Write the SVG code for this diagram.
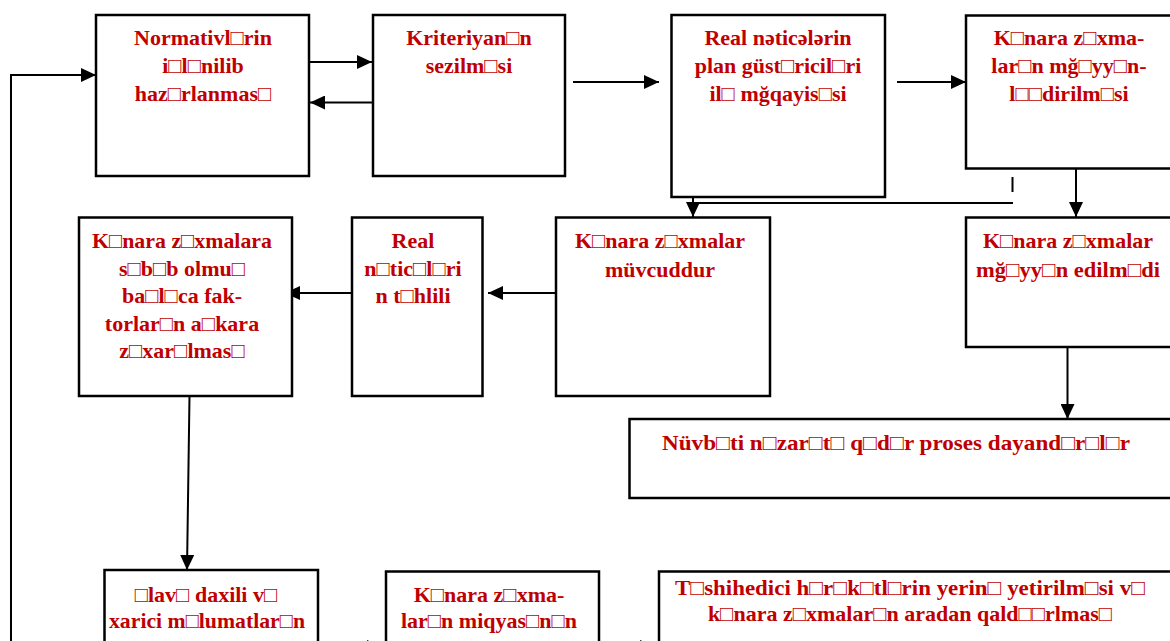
<svg xmlns="http://www.w3.org/2000/svg" width="1170" height="641" viewBox="0 0 1170 641">
  <style>
    .box { fill: #ffffff; stroke: #000000; stroke-width: 2.5; }
    .lbl { font-family: "Liberation Serif", "Times New Roman", serif; font-weight: bold; font-size: 22px; fill: #c00000; text-anchor: middle; }
    .con { fill: none; stroke: #000000; stroke-width: 2; }
  </style>
  <defs>
    <marker id="arr" viewBox="0 0 15 14" refX="15" refY="7" markerWidth="15" markerHeight="14" markerUnits="userSpaceOnUse" orient="auto">
      <path d="M0,0 L15,7 L0,14 Z" fill="#000000"/>
    </marker>
  </defs>
  <rect width="1170" height="641" fill="#ffffff"/>

  <!-- connectors -->
  <g id="connectors">
    <path class="con" d="M309,62 L372,62" marker-end="url(#arr)"/>
    <path class="con" d="M373,102.5 L310,102.5" marker-end="url(#arr)"/>
    <path class="con" d="M573,82 L659,82" marker-end="url(#arr)"/>
    <path class="con" d="M897,82 L966,82" marker-end="url(#arr)"/>
    <path class="con" d="M1012.5,177 L1012.5,192"/>
    <path class="con" d="M1013,203 L693,203"/>
    <path class="con" d="M693,192 L693,217" marker-end="url(#arr)"/>
    <path class="con" d="M1076,168 L1076,217" marker-end="url(#arr)"/>
    <path class="con" d="M1067.5,343 L1067.5,419" marker-end="url(#arr)"/>
    <path class="con" d="M556,293 L488,293" marker-end="url(#arr)"/>
    <path class="con" d="M352,293 L285,293" marker-end="url(#arr)"/>
    <path class="con" d="M189.5,396 L187,570" marker-end="url(#arr)"/>
    <path class="con" d="M318,647 L382,647" marker-end="url(#arr)"/>
    <path class="con" d="M599,647 L655,647" marker-end="url(#arr)"/>
    <path class="con" d="M11,660 L11,75 L96,75" marker-end="url(#arr)"/>
  </g>

  <!-- top row -->
  <g id="n-normativ">
    <rect class="box" x="96" y="15" width="213" height="161"/>
    <text class="lbl" x="203" y="45">Normativl□rin</text>
    <text class="lbl" x="203" y="73">i□l□nilib</text>
    <text class="lbl" x="203" y="101">haz□rlanmas□</text>
  </g>
  <g id="n-kriteriya">
    <rect class="box" x="373" y="15" width="192" height="161"/>
    <text class="lbl" x="469" y="45">Kriteriyan□n</text>
    <text class="lbl" x="469" y="73">sezilm□si</text>
  </g>
  <g id="n-muqayise">
    <rect class="box" x="671.5" y="15" width="213.5" height="182"/>
    <text class="lbl" x="778" y="45">Real nəticələrin</text>
    <text class="lbl" x="778" y="73">plan güst□ricil□ri</text>
    <text class="lbl" x="778" y="101">il□ mğqayis□si</text>
  </g>
  <g id="n-muayyenlesdirme">
    <rect class="box" x="966" y="15.5" width="210" height="153"/>
    <text class="lbl" x="1069" y="45">K□nara z□xma-</text>
    <text class="lbl" x="1069" y="73">lar□n mğ□yy□n-</text>
    <text class="lbl" x="1069" y="101">l□□dirilm□si</text>
  </g>

  <!-- middle row -->
  <g id="n-faktorlar">
    <rect class="box" x="79" y="217.5" width="213" height="178.5"/>
    <text class="lbl" x="182" y="248" textLength="180" lengthAdjust="spacingAndGlyphs">K□nara z□xmalara</text>
    <text class="lbl" x="182" y="275.5">s□b□b olmu□</text>
    <text class="lbl" x="182" y="303">ba□l□ca fak-</text>
    <text class="lbl" x="182" y="330.5">torlar□n  a□kara</text>
    <text class="lbl" x="182" y="358">z□xar□lmas□</text>
  </g>
  <g id="n-tehlil">
    <rect class="box" x="352" y="217.5" width="130.5" height="178.5"/>
    <text class="lbl" x="413" y="248">Real</text>
    <text class="lbl" x="413" y="276">n□tic□l□ri</text>
    <text class="lbl" x="413" y="303">n t□hlili</text>
  </g>
  <g id="n-movcud">
    <rect class="box" x="556" y="217.5" width="214" height="178.5"/>
    <text class="lbl" x="660" y="248" textLength="170" lengthAdjust="spacingAndGlyphs">K□nara z□xmalar</text>
    <text class="lbl" x="660" y="277">müvcuddur</text>
  </g>
  <g id="n-edilmedi">
    <rect class="box" x="966" y="217.5" width="210" height="129.5"/>
    <text class="lbl" x="1068" y="248" textLength="170" lengthAdjust="spacingAndGlyphs">K□nara z□xmalar</text>
    <text class="lbl" x="1068" y="277" textLength="184" lengthAdjust="spacingAndGlyphs">mğ□yy□n edilm□di</text>
  </g>
  <g id="n-dayandirma">
    <rect class="box" x="629.5" y="419" width="546" height="79"/>
    <text class="lbl" x="896" y="450" textLength="468" lengthAdjust="spacingAndGlyphs">Nüvb□ti n□zar□t□ q□d□r proses dayand□r□l□r</text>
  </g>

  <!-- bottom row -->
  <g id="n-melumat">
    <rect class="box" x="104.5" y="570" width="213.5" height="90"/>
    <text class="lbl" x="206" y="602">□lav□ daxili v□</text>
    <text class="lbl" x="207" y="628" textLength="196" lengthAdjust="spacingAndGlyphs">xarici m□lumatlar□n</text>
  </g>
  <g id="n-miqyas">
    <rect class="box" x="386" y="571.5" width="213" height="90"/>
    <text class="lbl" x="489" y="602">K□nara z□xma-</text>
    <text class="lbl" x="489" y="628">lar□n miqyas□n□n</text>
  </g>
  <g id="n-tesih">
    <rect class="box" x="659" y="571.5" width="517" height="90"/>
    <text class="lbl" x="910" y="595" textLength="470" lengthAdjust="spacingAndGlyphs">T□shihedici h□r□k□tl□rin yerin□ yetirilm□si v□</text>
    <text class="lbl" x="910" y="621">k□nara z□xmalar□n aradan qald□□rlmas□</text>
  </g>
</svg>
